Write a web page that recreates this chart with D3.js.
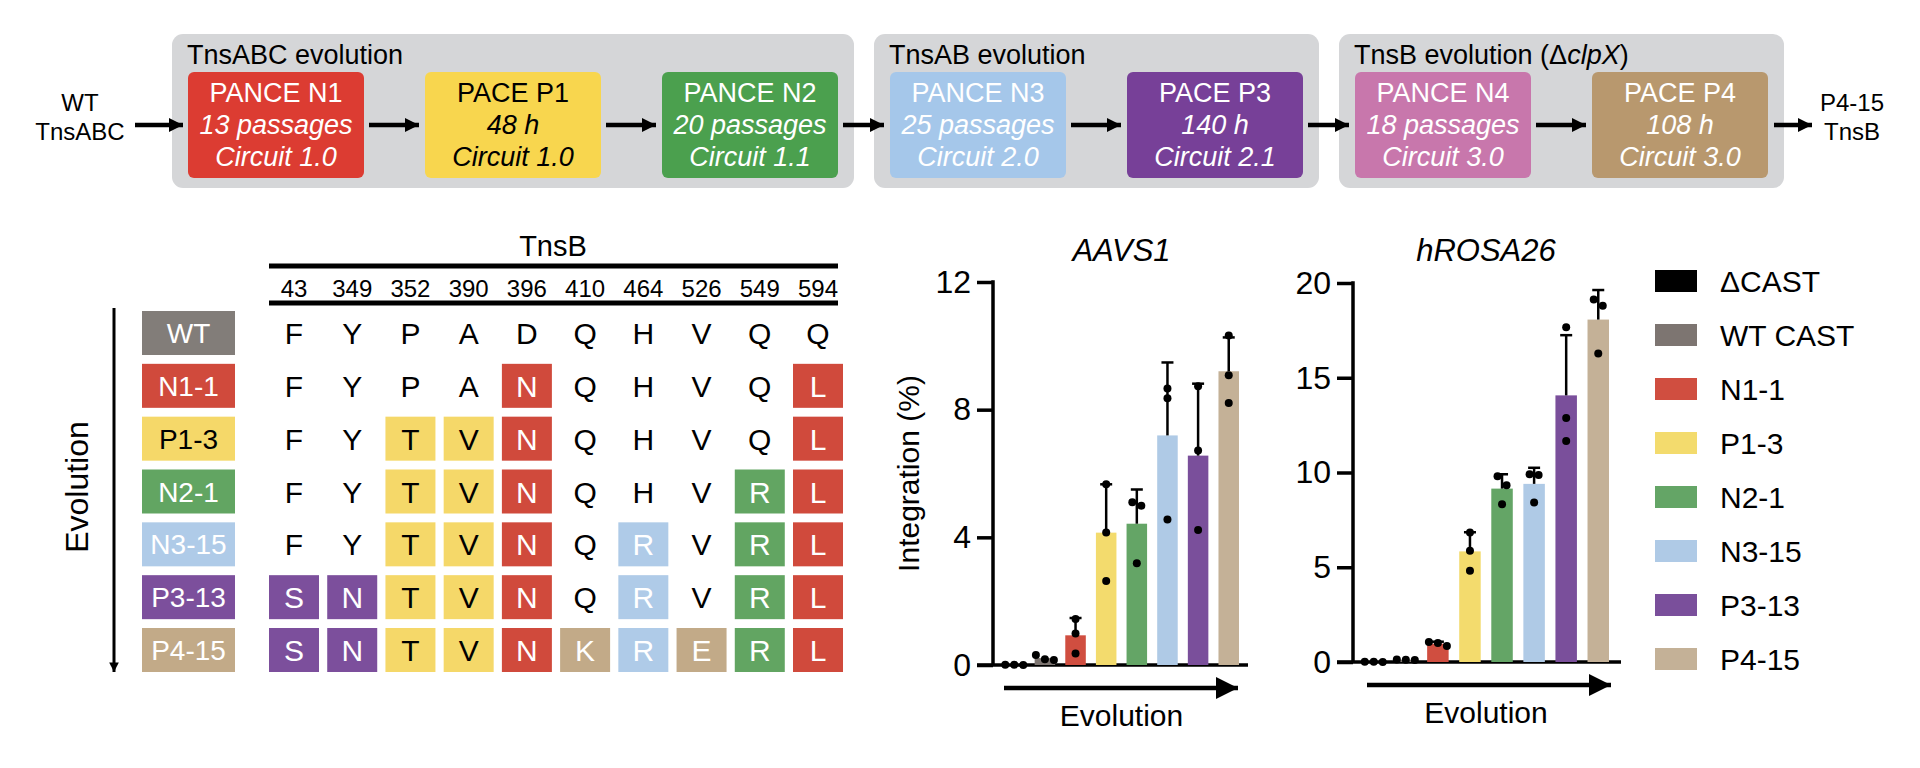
<!DOCTYPE html>
<html>
<head>
<meta charset="utf-8">
<script src="https://cdn.jsdelivr.net/npm/d3@7"></script>
<style>
  body { margin: 0; background: #fff; }
  svg { font-family: "Liberation Sans", Arial, Helvetica, sans-serif; }
</style>
</head>
<body>
<div id="chart"></div>
<script>
// ---- data ----
const stageNames = ["PANCE N1", "PACE P1", "PANCE N2", "PANCE N3", "PACE P3", "PANCE N4", "PACE P4"];
const stageDur = ["13 passages", "48 h", "20 passages", "25 passages", "140 h", "18 passages", "108 h"];
const stageCircuit = ["Circuit 1.0", "Circuit 1.0", "Circuit 1.1", "Circuit 2.0", "Circuit 2.1", "Circuit 3.0", "Circuit 3.0"];
const stageColors = ["#DC3C32", "#F8D64E", "#4BA04E", "#A5C7EA", "#774098", "#C877AC", "#B8986E"];
const groupTitles = ["TnsABC evolution", "TnsAB evolution", "TnsB evolution"];
const groupSizes = [3, 2, 2];

const positions = ["43", "349", "352", "390", "396", "410", "464", "526", "549", "594"];
const variants = ["WT", "N1-1", "P1-3", "N2-1", "N3-15", "P3-13", "P4-15"];
const residues = ["FYPADQHVQQ", "FYPANQHVQL", "FYTVNQHVQL", "FYTVNQHVRL", "FYTVNQRVRL", "SNTVNQRVRL", "SNTVNKRERL"];
const variantColors = ["#827D79", "#D04A3C", "#F5D869", "#62A562", "#AFCBE8", "#7C4F9C", "#C2AA88"];

const legendLabels = ["\u0394CAST", "WT CAST", "N1-1", "P1-3", "N2-1", "N3-15", "P3-13", "P4-15"];
const barColors = ["#000000", "#7D7571", "#D04E40", "#F3DB6D", "#64A566", "#AFCAE6", "#7A4F9B", "#C4B197"];
const aavs1 = [[0.01, 0.0, 0.01], [0.16, 0.31, 0.18], [1.44, 0.99, 0.36], [5.66, 4.15, 2.63],
               [5.10, 4.99, 3.19], [8.66, 8.36, 4.56], [8.73, 6.72, 4.23], [10.32, 9.08, 8.21]];
const hrosa = [[0.01, 0.0, 0.01], [0.10, 0.12, 0.13], [0.85, 1.05, 1.0], [6.83, 5.87, 4.81],
               [9.80, 9.33, 8.32], [9.91, 9.87, 8.42], [17.67, 12.88, 11.66], [19.13, 18.80, 16.28]];
const aavs1Ticks = [0, 4, 8, 12];
const hrosaTicks = [0, 5, 10, 15, 20];

const width = 1920, height = 768;
const svg = d3.select("#chart").append("svg").attr("width", width).attr("height", height);

const defs = svg.append("defs");
defs.append("marker").attr("id", "ah").attr("viewBox", "0 0 10 10")
    .attr("refX", 10).attr("refY", 5).attr("markerWidth", 3.2).attr("markerHeight", 3.6)
    .attr("markerUnits", "strokeWidth").attr("orient", "auto")
  .append("path").attr("d", "M0,0 L10,5 L0,10 Z").attr("fill", "#000");
defs.append("marker").attr("id", "ah2").attr("viewBox", "0 0 10 10")
    .attr("refX", 10).attr("refY", 5).attr("markerWidth", 5).attr("markerHeight", 6)
    .attr("markerUnits", "strokeWidth").attr("orient", "auto")
  .append("path").attr("d", "M0,0 L10,5 L0,10 Z").attr("fill", "#000");

function textColor(c) {
    return (c === "#F8D64E" || c === "#F5D869" || c === "#F3DB6D") ? "#000" : "#fff";
}

// ---- top flow ----
const boxW = 176, boxGap = 61, pad = 16, groupGap = 20;
const flow = svg.append("g");
let gx = 172;
const boxXs = [];
groupSizes.forEach(function(n, gi) {
    const gw = pad * 2 + n * boxW + (n - 1) * boxGap;
    flow.append("rect").attr("x", gx).attr("y", 34).attr("width", gw).attr("height", 154)
        .attr("rx", 11).attr("fill", "#D5D6D8");
    const t = flow.append("text").attr("x", gx + 15).attr("y", 64).attr("font-size", 27).text(groupTitles[gi]);
    if (gi === 2) {
        t.append("tspan").text(" (\u0394");
        t.append("tspan").attr("font-style", "italic").text("clpX");
        t.append("tspan").text(")");
    }
    for (let k = 0; k < n; k++) {
        boxXs.push(gx + pad + k * (boxW + boxGap));
    }
    gx += gw + groupGap;
});

boxXs.forEach(function(x, i) {
    const g = flow.append("g").attr("transform", `translate(${x},72)`);
    g.append("rect").attr("width", boxW).attr("height", 106).attr("rx", 6).attr("fill", stageColors[i]);
    const col = textColor(stageColors[i]);
    g.append("text").attr("x", boxW / 2).attr("y", 30).attr("text-anchor", "middle")
        .attr("font-size", 27).attr("fill", col).text(stageNames[i]);
    g.append("text").attr("x", boxW / 2).attr("y", 62).attr("text-anchor", "middle")
        .attr("font-size", 27).attr("font-style", "italic").attr("fill", col).text(stageDur[i]);
    g.append("text").attr("x", boxW / 2).attr("y", 94).attr("text-anchor", "middle")
        .attr("font-size", 27).attr("font-style", "italic").attr("fill", col).text(stageCircuit[i]);
});

function arrow(x1, x2, y) {
    flow.append("line").attr("x1", x1).attr("x2", x2).attr("y1", y).attr("y2", y)
        .attr("stroke", "#000").attr("stroke-width", 4.5).attr("marker-end", "url(#ah)");
}
arrow(135, 183, 125);
for (let i = 0; i < boxXs.length - 1; i++) {
    arrow(boxXs[i] + boxW + 5, boxXs[i + 1] - 6, 125);
}
arrow(boxXs[boxXs.length - 1] + boxW + 6, 1812, 125);

flow.append("text").attr("x", 80).attr("y", 111).attr("text-anchor", "middle").attr("font-size", 24).text("WT");
flow.append("text").attr("x", 80).attr("y", 140).attr("text-anchor", "middle").attr("font-size", 24).text("TnsABC");
flow.append("text").attr("x", 1852).attr("y", 111).attr("text-anchor", "middle").attr("font-size", 24).text("P4-15");
flow.append("text").attr("x", 1852).attr("y", 140).attr("text-anchor", "middle").attr("font-size", 24).text("TnsB");

// ---- mutation table ----
const tbl = svg.append("g");
const colX = d3.scalePoint().domain(positions).range([294, 818]);
const rowY = d3.scalePoint().domain(variants).range([333, 650]);
const cellW = 50, cellH = 44;

tbl.append("text").attr("x", 553).attr("y", 256).attr("text-anchor", "middle").attr("font-size", 29).text("TnsB");
tbl.append("line").attr("x1", 269).attr("x2", 838).attr("y1", 266).attr("y2", 266).attr("stroke", "#000").attr("stroke-width", 5);
tbl.append("line").attr("x1", 269).attr("x2", 838).attr("y1", 303).attr("y2", 303).attr("stroke", "#000").attr("stroke-width", 5);
tbl.selectAll(".pos").data(positions).enter().append("text")
    .attr("x", d => colX(d)).attr("y", 297).attr("text-anchor", "middle").attr("font-size", 24).text(d => d);

variants.forEach(function(v, r) {
    const y = rowY(v);
    tbl.append("rect").attr("x", 142).attr("y", y - cellH / 2).attr("width", 93).attr("height", cellH)
        .attr("fill", variantColors[r]);
    tbl.append("text").attr("x", 188.5).attr("y", y + 10).attr("text-anchor", "middle").attr("font-size", 28)
        .attr("fill", textColor(variantColors[r])).text(v);
    positions.forEach(function(p, c) {
        const aa = residues[r][c];
        let fill = null;
        if (aa !== residues[0][c]) {
            const first = residues.findIndex(s => s[c] === aa);
            fill = variantColors[first];
        }
        if (fill) {
            tbl.append("rect").attr("x", colX(p) - cellW / 2).attr("y", y - cellH / 2)
                .attr("width", cellW).attr("height", cellH).attr("fill", fill);
        }
        tbl.append("text").attr("x", colX(p)).attr("y", y + 11).attr("text-anchor", "middle").attr("font-size", 30)
            .attr("fill", fill ? textColor(fill) : "#000").text(aa);
    });
});

tbl.append("line").attr("x1", 114).attr("x2", 114).attr("y1", 308).attr("y2", 672)
    .attr("stroke", "#000").attr("stroke-width", 3).attr("marker-end", "url(#ah)");
tbl.append("text").attr("transform", "translate(88,487) rotate(-90)").attr("text-anchor", "middle")
    .attr("font-size", 32).text("Evolution");

// ---- bar charts ----
function barChart(opts) {
    const g = svg.append("g");
    const y = d3.scaleLinear().domain([0, d3.max(opts.ticks)]).range([opts.y0, opts.y1]);
    const x = d3.scaleBand().domain(legendLabels).range([opts.xStart, opts.xEnd]).paddingInner(0.33).paddingOuter(0);

    const yAxis = g.append("g").attr("transform", `translate(${opts.axisX},0)`)
        .call(d3.axisLeft(y).tickValues(opts.ticks).tickSize(16).tickPadding(6));
    yAxis.select(".domain").remove();
    yAxis.selectAll(".tick line").attr("stroke", "#000").attr("stroke-width", 3.5);
    yAxis.selectAll(".tick text").attr("font-size", 32).attr("font-family", "Liberation Sans, Arial, sans-serif")
        .attr("fill", "#000");
    g.append("line").attr("x1", opts.axisX).attr("x2", opts.axisX).attr("y1", opts.y1 - 1.75).attr("y2", opts.y0)
        .attr("stroke", "#000").attr("stroke-width", 3.5);
    g.append("line").attr("x1", opts.axisX - 16).attr("x2", opts.xAxisEnd).attr("y1", opts.y0).attr("y2", opts.y0)
        .attr("stroke", "#000").attr("stroke-width", 3.5);

    const stats = opts.data.map(function(reps, i) {
        return { name: legendLabels[i], reps: reps, mean: d3.mean(reps), sd: d3.deviation(reps) };
    });

    g.selectAll(".bar").data(stats).enter().append("rect")
        .attr("x", d => x(d.name)).attr("width", x.bandwidth())
        .attr("y", d => y(d.mean)).attr("height", d => y(0) - y(d.mean))
        .attr("fill", (d, i) => barColors[i]);

    const err = g.selectAll(".err").data(stats.filter(d => d.mean > 0.5)).enter().append("g");
    err.append("line").attr("x1", d => x(d.name) + x.bandwidth() / 2).attr("x2", d => x(d.name) + x.bandwidth() / 2)
        .attr("y1", d => y(d.mean)).attr("y2", d => y(d.mean + d.sd)).attr("stroke", "#000").attr("stroke-width", 2.5);
    err.append("line").attr("x1", d => x(d.name) + x.bandwidth() / 2 - 6).attr("x2", d => x(d.name) + x.bandwidth() / 2 + 6)
        .attr("y1", d => y(d.mean + d.sd)).attr("y2", d => y(d.mean + d.sd)).attr("stroke", "#000").attr("stroke-width", 2.5);

    // replicate dots, spread sideways when they overlap
    const r = 4;
    stats.forEach(function(d) {
        const cx = x(d.name) + x.bandwidth() / 2;
        const pts = d.reps.map(v => ({ v: v, py: y(v) })).sort((a, b) => a.py - b.py);
        const groups = [];
        pts.forEach(function(p) {
            const last = groups[groups.length - 1];
            if (last && p.py - last[last.length - 1].py < 2 * r + 1) last.push(p); else groups.push([p]);
        });
        groups.forEach(function(grp) {
            grp.forEach(function(p, k) {
                g.append("circle").attr("cx", cx + (k - (grp.length - 1) / 2) * (2 * r + 1))
                    .attr("cy", p.py).attr("r", r).attr("fill", "#000");
            });
        });
    });

    const mid = (opts.xStart + opts.xEnd) / 2;
    g.append("text").attr("x", mid).attr("y", 261).attr("text-anchor", "middle").attr("font-size", 31)
        .attr("font-style", "italic").text(opts.title);
    g.append("line").attr("x1", opts.arrowX1).attr("x2", opts.arrowX2).attr("y1", opts.arrowY).attr("y2", opts.arrowY)
        .attr("stroke", "#000").attr("stroke-width", 4.5).attr("marker-end", "url(#ah2)");
    g.append("text").attr("x", mid).attr("y", opts.arrowY + 38).attr("text-anchor", "middle").attr("font-size", 30)
        .text("Evolution");
    if (opts.ylabel) {
        g.append("text").attr("transform", `translate(${opts.axisX - 74},${(opts.y0 + opts.y1) / 2}) rotate(-90)`)
            .attr("text-anchor", "middle").attr("font-size", 30).text(opts.ylabel);
    }
}

barChart({ title: "AAVS1", data: aavs1, ticks: aavs1Ticks, axisX: 993, y0: 665, y1: 282,
           xStart: 1004, xEnd: 1239, xAxisEnd: 1248, arrowX1: 1004, arrowX2: 1238, arrowY: 688,
           ylabel: "Integration (%)" });
barChart({ title: "hROSA26", data: hrosa, ticks: hrosaTicks, axisX: 1353, y0: 662, y1: 283,
           xStart: 1363, xEnd: 1609, xAxisEnd: 1621, arrowX1: 1367, arrowX2: 1611, arrowY: 685 });

// ---- legend ----
const leg = svg.append("g");
legendLabels.forEach(function(l, i) {
    const y = 281 + i * 54;
    leg.append("rect").attr("x", 1655).attr("y", y - 11).attr("width", 42).attr("height", 22).attr("fill", barColors[i]);
    leg.append("text").attr("x", 1720).attr("y", y + 11).attr("font-size", 30).text(l);
});
</script>
</body>
</html>
